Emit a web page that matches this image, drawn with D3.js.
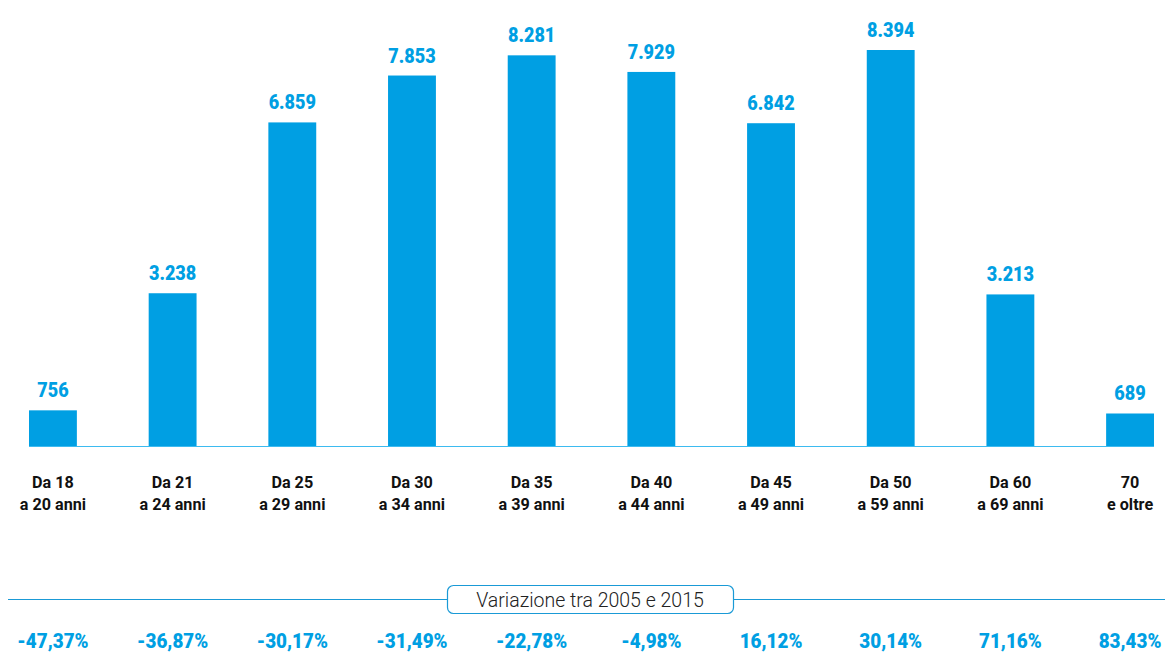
<!DOCTYPE html>
<html><head><meta charset="utf-8">
<script src="https://cdn.jsdelivr.net/npm/d3@7"></script>
<style>
html,body{margin:0;padding:0;background:#fff;}
svg{display:block;}
</style></head>
<body>
<svg id="chart" width="1166" height="653"></svg>
<script>
const categoriesLine1 = ["Da 18","Da 21","Da 25","Da 30","Da 35","Da 40","Da 45","Da 50","Da 60","70"];
const categoriesLine2 = ["a 20 anni","a 24 anni","a 29 anni","a 34 anni","a 39 anni","a 44 anni","a 49 anni","a 59 anni","a 69 anni","e oltre"];
const values = [756,3238,6859,7853,8281,7929,6842,8394,3213,689];
const valueLabels = ["756","3.238","6.859","7.853","8.281","7.929","6.842","8.394","3.213","689"];
const variations = ["-47,37%","-36,87%","-30,17%","-31,49%","-22,78%","-4,98%","16,12%","30,14%","71,16%","83,43%"];
const variationTitle = "Variazione tra 2005 e 2015";

const blue = "#009fe3";
const svg = d3.select("#chart");
const idx = d3.range(values.length);

const x = d3.scaleBand().domain(idx).range([29, 1154]).paddingInner(0.6).paddingOuter(0);
const y = d3.scaleLinear().domain([0, 8394]).range([446, 50]);

const font = "Roboto, 'Liberation Sans', sans-serif";

// bars
svg.append("g").selectAll("rect").data(idx).join("rect")
  .attr("x", i => x(i)).attr("width", x.bandwidth())
  .attr("y", i => y(values[i])).attr("height", i => y(0) - y(values[i]))
  .attr("fill", blue);

// baseline
svg.append("line").attr("x1", x(0)).attr("x2", x(idx.length-1) + x.bandwidth())
  .attr("y1", y(0) + 0.5).attr("y2", y(0) + 0.5)
  .attr("stroke", "#3dbbf0").attr("stroke-width", 1);

// value labels
svg.append("g").selectAll("text").data(idx).join("text")
  .attr("transform", i => `translate(${x(i) + x.bandwidth()/2},${y(values[i]) - 13}) scale(0.86,1)`)
  .attr("text-anchor", "middle")
  .attr("font-family", font).attr("font-weight", 900).attr("font-size", 21)
  .attr("fill", blue)
  .text(i => valueLabels[i]);

// category labels
const cat = svg.append("g").selectAll("text").data(idx).join("text")
  .attr("text-anchor", "middle")
  .attr("font-family", font).attr("font-weight", 700).attr("font-size", 16.5)
  .attr("fill", "#111");
cat.append("tspan").attr("x", 0).attr("y", 0).text(i => categoriesLine1[i]);
cat.append("tspan").attr("x", 0).attr("y", 22).text(i => categoriesLine2[i]);
cat.attr("transform", i => `translate(${x(i) + x.bandwidth()/2},488) scale(0.98,1)`);

// variation section
svg.append("line").attr("x1", 8).attr("x2", 1165).attr("y1", 599.5).attr("y2", 599.5)
  .attr("stroke", "#1a9ad6").attr("stroke-width", 1.2);
svg.append("rect").attr("x", 447.5).attr("y", 585.5).attr("width", 286).attr("height", 28)
  .attr("rx", 6).attr("fill", "#fff").attr("stroke", "#1a9ad6").attr("stroke-width", 1.2);
svg.append("text").attr("x", 590).attr("y", 607).attr("text-anchor", "middle")
  .attr("font-family", font).attr("font-weight", 300).attr("font-size", 19.5)
  .attr("fill", "#222").text(variationTitle);

const sx = 0.92;
const vt = svg.append("g").selectAll("text").data(idx).join("text")
  .attr("text-anchor", "middle")
  .attr("font-family", font).attr("font-weight", 900).attr("font-size", 20.5)
  .attr("fill", blue)
  .text(i => variations[i]);
vt.each(function(i){
  const w = this.getComputedTextLength() * sx;
  let cx = x(i) + x.bandwidth()/2;
  cx = Math.max(cx, 8 + w/2);
  cx = Math.min(cx, 1164 - w/2);
  d3.select(this).attr("transform", `translate(${cx},648) scale(${sx},1)`);
});
</script>
</body></html>
